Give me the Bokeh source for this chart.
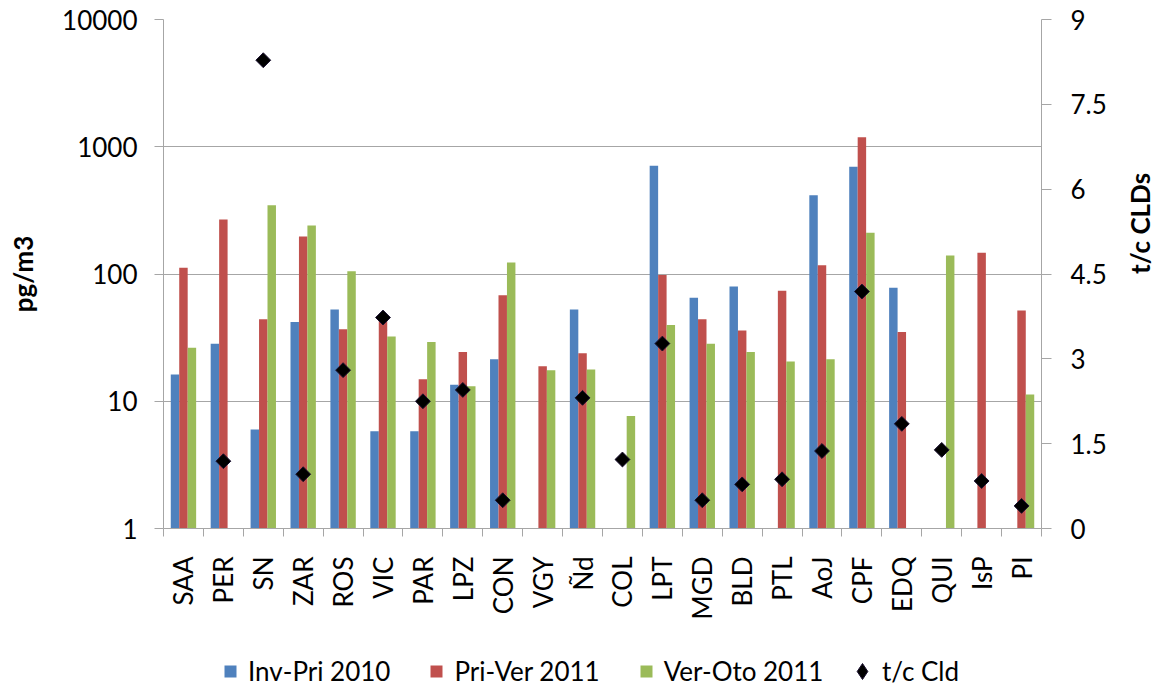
import math
from bokeh.plotting import figure
from bokeh.layouts import column
from bokeh.models import (ColumnDataSource, Range1d, LinearAxis, LinearScale,
                          FixedTicker, Legend, LegendItem)
from bokeh.transform import dodge
from bokeh.embed import file_html
from bokeh.resources import INLINE

nan = float("nan")

categories = ["SAA", "PER", "SN", "ZAR", "ROS", "VIC", "PAR", "LPZ", "CON", "VGY", "Ñd",
              "COL", "LPT", "MGD", "BLD", "PTL", "AoJ", "CPF", "EDQ", "QUI", "IsP", "PI"]

inv_pri_2010 = [16.2, 28.3, 6.0, 42, 52.6, 5.8, 5.8, 13.5, 21.4, nan, 52.6,
                nan, 708, 65, 79.6, nan, 415, 695, 78, nan, nan, nan]
pri_ver_2011 = [112, 268, 44, 197, 36.8, 45, 14.9, 24.4, 68, 18.8, 23.8,
                nan, 98, 44, 36, 74, 117, 1190, 35, nan, 147, 51.7]
ver_oto_2011 = [26.3, nan, 347, 241, 105, 32.3, 29.2, 13.1, 123, 17.5, 17.8,
                7.65, 39.7, 28.3, 24.4, 20.5, 21.4, 211, nan, 140, nan, 11.3]
tc_cld = [nan, 1.19, 8.28, 0.96, 2.80, 3.73, 2.25, 2.45, 0.50, nan, 2.31,
          1.22, 3.27, 0.50, 0.78, 0.87, 1.37, 4.19, 1.85, 1.39, 0.84, 0.40]

left_ticks = [1, 10, 100, 1000, 10000]
left_tick_labels = ["1", "10", "100", "1000", "10000"]
right_ticks = [0, 1.5, 3, 4.5, 6, 7.5, 9]
right_tick_labels = ["0", "1.5", "3", "4.5", "6", "7.5", "9"]

series_names = ["Inv-Pri 2010", "Pri-Ver 2011", "Ver-Oto 2011", "t/c Cld"]
colors = ["#4f81bd", "#c0504d", "#9bbb59"]

n = len(categories)
centers = [i + 0.5 for i in range(n)]
bounds = [float(i) for i in range(n + 1)]

src = ColumnDataSource(dict(x=centers, inv=inv_pri_2010, pri=pri_ver_2011,
                            ver=ver_oto_2011, tc=tc_cld))

FONT = "Lato"
GRID = "#a6a6a6"
W = 1174

p = figure(width=W, height=640, x_range=Range1d(0, n), y_range=Range1d(1, 10000),
           y_axis_type="log", output_backend="svg", toolbar_location=None,
           min_border_left=163, min_border_right=128, min_border_top=19,
           min_border_bottom=112)
p.outline_line_color = None

p.extra_y_ranges = {"tc": Range1d(0, 9)}
p.extra_y_scales = {"tc": LinearScale()}

bw = 0.212
for field, off, col in zip(["inv", "pri", "ver"], [-bw, 0, bw], colors):
    p.vbar(x=dodge("x", off), top=field, bottom=1, width=bw, source=src,
           fill_color=col, line_color=None)

p.scatter(x="x", y="tc", source=src, y_range_name="tc", marker="square",
          angle=math.pi / 4, size=10.5, fill_color="black", line_color="#1a1030",
          line_width=1)

# left axis
ya = p.yaxis[0]
ya.ticker = FixedTicker(ticks=left_ticks)
ya.major_label_overrides = {t: l for t, l in zip(left_ticks, left_tick_labels)}
ya.major_tick_out = 9
ya.major_tick_in = 0
ya.minor_tick_line_color = None
ya.major_label_standoff = 17
ya.axis_line_color = GRID
ya.major_tick_line_color = GRID
ya.major_label_text_font = FONT
ya.major_label_text_font_size = "26px"
ya.major_label_text_color = "black"
ya.axis_label = "pg/m3"
ya.axis_label_text_font = FONT
ya.axis_label_text_font_style = "bold"
ya.axis_label_text_font_size = "26px"
ya.axis_label_text_color = "black"
ya.axis_label_standoff = 20

p.ygrid.ticker = FixedTicker(ticks=left_ticks)
p.ygrid.grid_line_color = GRID
p.ygrid.minor_grid_line_color = None
p.xgrid.grid_line_color = None

# x axis
xa = p.xaxis[0]
xa.ticker = FixedTicker(ticks=centers, minor_ticks=bounds)
xa.major_label_overrides = {c: lab for c, lab in zip(centers, categories)}
xa.major_tick_line_color = None
xa.major_tick_out = 8
xa.major_tick_in = 0
xa.minor_tick_out = 8
xa.minor_tick_in = 0
xa.minor_tick_line_color = GRID
xa.axis_line_color = GRID
xa.major_label_orientation = math.pi / 2
xa.major_label_standoff = 20
xa.major_label_text_font = FONT
xa.major_label_text_font_size = "26px"
xa.major_label_text_color = "black"

# right axis
ra = LinearAxis(y_range_name="tc", ticker=FixedTicker(ticks=right_ticks))
ra.major_label_overrides = {t: l for t, l in zip(right_ticks, right_tick_labels)}
ra.major_tick_out = 10
ra.major_tick_in = 0
ra.minor_tick_line_color = None
ra.major_label_standoff = 19
ra.axis_line_color = GRID
ra.major_tick_line_color = GRID
ra.major_label_text_font = FONT
ra.major_label_text_font_size = "26px"
ra.major_label_text_color = "black"
ra.axis_label = "t/c CLDs"
ra.axis_label_text_font = FONT
ra.axis_label_text_font_style = "bold"
ra.axis_label_text_font_size = "26px"
ra.axis_label_text_color = "black"
ra.axis_label_standoff = 30
ra.axis_label_orientation = math.pi / 2
p.add_layout(ra, "right")

# legend strip below the chart (its frame is aligned with the chart frame)
lg = figure(width=W, height=47, x_range=Range1d(0, 1), y_range=Range1d(0, 1),
            output_backend="svg", toolbar_location=None, min_border=0,
            x_axis_location=None, y_axis_location=None)
lg.outline_line_color = None
lg.grid.visible = False

dummies = [lg.scatter(x="x", y=f, source=src, marker="square", fill_color=c,
                      line_color=None, visible=False)
           for c, f in zip(colors, ["inv", "pri", "ver"])]
dia = lg.scatter(x="x", y="tc", source=src, marker="diamond", fill_color="black",
                 line_color="#1a1030", visible=False)

common = dict(orientation="horizontal", padding=0, margin=0,
              border_line_color=None, background_fill_alpha=0,
              label_text_font=FONT, label_text_font_size="26px",
              label_text_color="black")

leg1 = Legend(items=[LegendItem(label=series_names[i], renderers=[dummies[i]], index=0)
                     for i in range(3)],
              location=(52, 0), glyph_width=30, glyph_height=30,
              label_standoff=3, spacing=31, **common)
leg2 = Legend(items=[LegendItem(label=series_names[3], renderers=[dia], index=1)],
              location=(679, -4), glyph_width=40, glyph_height=40,
              label_standoff=0, spacing=0, **common)
lg.add_layout(leg1, "center")
lg.add_layout(leg2, "center")

open("out.html", "w").write(file_html(column(p, lg), INLINE))
